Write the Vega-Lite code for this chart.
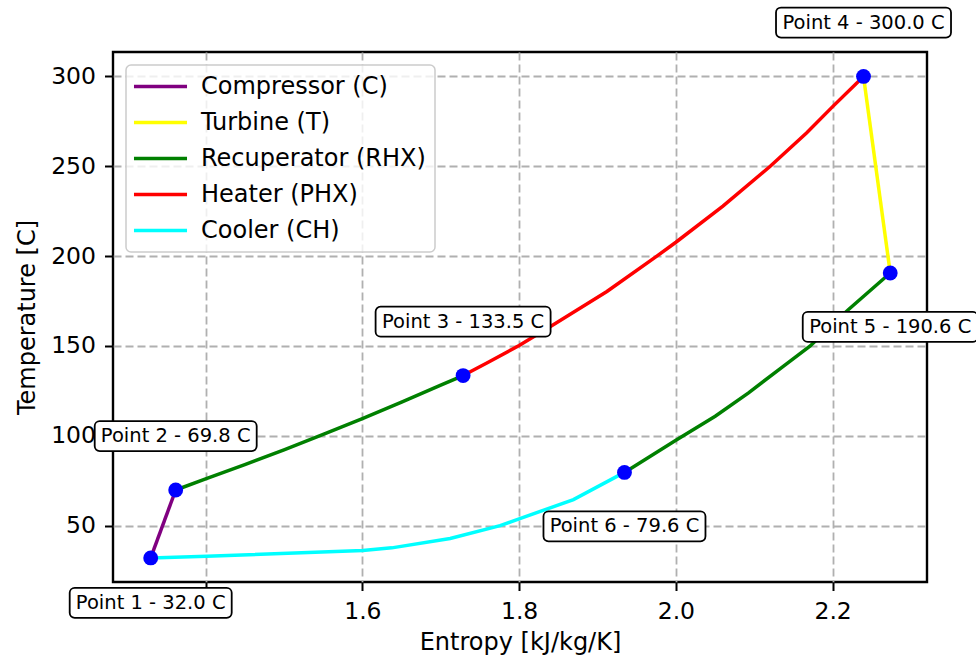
{
  "$schema": "https://vega.github.io/schema/vega-lite/v6.json",
  "width": 814,
  "height": 530,
  "autosize": {"type": "none"},
  "padding": {"left": 113, "top": 52, "right": 49, "bottom": 78},
  "background": "white",
  "config": {
    "font": "DejaVu Sans",
    "view": {"stroke": "black", "strokeWidth": 2.4},
    "axis": {
      "domain": false,
      "grid": true,
      "gridColor": "#b0b0b0",
      "gridDash": [8, 4],
      "gridWidth": 1.8,
      "tickColor": "black",
      "tickWidth": 2,
      "tickSize": 8.5,
      "labelFont": "DejaVu Sans",
      "labelFontSize": 23.5,
      "labelColor": "black",
      "titleFont": "DejaVu Sans",
      "titleFontSize": 24,
      "titleFontWeight": "normal",
      "titleColor": "black"
    },
    "axisX": {"labelPadding": 9, "titlePadding": 7},
    "axisY": {"labelPadding": 9, "titlePadding": 11},
    "legend": {
      "orient": "none",
      "legendX": 13,
      "legendY": 13,
      "padding": 9,
      "fillColor": "rgba(255,255,255,0.8)",
      "strokeColor": "#cccccc",
      "strokeWidth": 1.5,
      "cornerRadius": 5,
      "labelFont": "DejaVu Sans",
      "labelFontSize": 24,
      "labelColor": "black",
      "labelLimit": 0,
      "symbolType": "M-2.5,0H2.5",
      "symbolSize": 450,
      "symbolStrokeWidth": 3.5,
      "symbolOffset": 13,
      "labelOffset": 28,
      "rowPadding": 11
    }
  },
  "datasets": {
    "lines": [
      {"comp": "Compressor (C)", "seg": "C", "o": 0, "s": 1.3299, "T": 32.0},
      {"comp": "Compressor (C)", "seg": "C", "o": 1, "s": 1.3618, "T": 69.8},
      {"comp": "Recuperator (RHX)", "seg": "R1", "o": 0, "s": 1.3618, "T": 69.8},
      {"comp": "Recuperator (RHX)", "seg": "R1", "o": 1, "s": 1.40, "T": 76.0},
      {"comp": "Recuperator (RHX)", "seg": "R1", "o": 2, "s": 1.45, "T": 83.9},
      {"comp": "Recuperator (RHX)", "seg": "R1", "o": 3, "s": 1.50, "T": 92.2},
      {"comp": "Recuperator (RHX)", "seg": "R1", "o": 4, "s": 1.55, "T": 100.8},
      {"comp": "Recuperator (RHX)", "seg": "R1", "o": 5, "s": 1.60, "T": 109.5},
      {"comp": "Recuperator (RHX)", "seg": "R1", "o": 6, "s": 1.65, "T": 118.7},
      {"comp": "Recuperator (RHX)", "seg": "R1", "o": 7, "s": 1.70, "T": 128.2},
      {"comp": "Recuperator (RHX)", "seg": "R1", "o": 8, "s": 1.7285, "T": 133.5},
      {"comp": "Heater (PHX)", "seg": "H", "o": 0, "s": 1.7285, "T": 133.5},
      {"comp": "Heater (PHX)", "seg": "H", "o": 1, "s": 1.76, "T": 140.8},
      {"comp": "Heater (PHX)", "seg": "H", "o": 2, "s": 1.80, "T": 150.2},
      {"comp": "Heater (PHX)", "seg": "H", "o": 3, "s": 1.84, "T": 160.8},
      {"comp": "Heater (PHX)", "seg": "H", "o": 4, "s": 1.912, "T": 180.3},
      {"comp": "Heater (PHX)", "seg": "H", "o": 5, "s": 1.9757, "T": 200.0},
      {"comp": "Heater (PHX)", "seg": "H", "o": 6, "s": 2.0, "T": 207.7},
      {"comp": "Heater (PHX)", "seg": "H", "o": 7, "s": 2.06, "T": 227.8},
      {"comp": "Heater (PHX)", "seg": "H", "o": 8, "s": 2.1204, "T": 250.0},
      {"comp": "Heater (PHX)", "seg": "H", "o": 9, "s": 2.167, "T": 268.6},
      {"comp": "Heater (PHX)", "seg": "H", "o": 10, "s": 2.2, "T": 283.2},
      {"comp": "Heater (PHX)", "seg": "H", "o": 11, "s": 2.2394, "T": 300.0},
      {"comp": "Turbine (T)", "seg": "T", "o": 0, "s": 2.2394, "T": 300.0},
      {"comp": "Turbine (T)", "seg": "T", "o": 1, "s": 2.2735, "T": 190.6},
      {"comp": "Recuperator (RHX)", "seg": "R2", "o": 0, "s": 2.2735, "T": 190.6},
      {"comp": "Recuperator (RHX)", "seg": "R2", "o": 1, "s": 2.2203, "T": 170.3},
      {"comp": "Recuperator (RHX)", "seg": "R2", "o": 2, "s": 2.2, "T": 162.0},
      {"comp": "Recuperator (RHX)", "seg": "R2", "o": 3, "s": 2.1714, "T": 150.0},
      {"comp": "Recuperator (RHX)", "seg": "R2", "o": 4, "s": 2.1353, "T": 138.1},
      {"comp": "Recuperator (RHX)", "seg": "R2", "o": 5, "s": 2.0927, "T": 123.9},
      {"comp": "Recuperator (RHX)", "seg": "R2", "o": 6, "s": 2.0502, "T": 110.9},
      {"comp": "Recuperator (RHX)", "seg": "R2", "o": 7, "s": 2.0, "T": 97.5},
      {"comp": "Recuperator (RHX)", "seg": "R2", "o": 8, "s": 1.9344, "T": 79.6},
      {"comp": "Cooler (CH)", "seg": "CH", "o": 0, "s": 1.9344, "T": 79.6},
      {"comp": "Cooler (CH)", "seg": "CH", "o": 1, "s": 1.8693, "T": 64.5},
      {"comp": "Cooler (CH)", "seg": "CH", "o": 2, "s": 1.80, "T": 53.7},
      {"comp": "Cooler (CH)", "seg": "CH", "o": 3, "s": 1.7757, "T": 50.0},
      {"comp": "Cooler (CH)", "seg": "CH", "o": 4, "s": 1.712, "T": 42.8},
      {"comp": "Cooler (CH)", "seg": "CH", "o": 5, "s": 1.6375, "T": 37.6},
      {"comp": "Cooler (CH)", "seg": "CH", "o": 6, "s": 1.6005, "T": 36.1},
      {"comp": "Cooler (CH)", "seg": "CH", "o": 7, "s": 1.4014, "T": 32.9},
      {"comp": "Cooler (CH)", "seg": "CH", "o": 8, "s": 1.3299, "T": 32.0}
    ],
    "pts": [
      {"s": 1.3299, "T": 32.0, "label": "Point 1 - 32.0 C", "lt": 7.0},
      {"s": 1.3618, "T": 69.8, "label": "Point 2 - 69.8 C", "lt": 99.8},
      {"s": 1.7285, "T": 133.5, "label": "Point 3 - 133.5 C", "lt": 163.5},
      {"s": 2.2394, "T": 300.0, "label": "Point 4 - 300.0 C", "lt": 330.0},
      {"s": 2.2735, "T": 190.6, "label": "Point 5 - 190.6 C", "lt": 160.6},
      {"s": 1.9344, "T": 79.6, "label": "Point 6 - 79.6 C", "lt": 49.6}
    ]
  },
  "layer": [
    {
      "data": {"name": "lines"},
      "mark": {"type": "line", "strokeWidth": 3.5},
      "encoding": {
        "x": {
          "field": "s",
          "type": "quantitative",
          "scale": {"domain": [1.2818, 2.3204], "nice": false, "zero": false},
          "axis": {"values": [1.4, 1.6, 1.8, 2.0, 2.2], "format": ".1f", "labelExpr": "datum.value < 1.5 ? '' : datum.label", "title": "Entropy [kJ/kg/K]"}
        },
        "y": {
          "field": "T",
          "type": "quantitative",
          "scale": {"domain": [18.6, 313.6], "nice": false, "zero": false},
          "axis": {"values": [50, 100, 150, 200, 250, 300], "format": "d", "title": "Temperature [C]"}
        },
        "color": {
          "field": "comp",
          "type": "nominal",
          "scale": {
            "domain": ["Compressor (C)", "Turbine (T)", "Recuperator (RHX)", "Heater (PHX)", "Cooler (CH)"],
            "range": ["#800080", "#ffff00", "#008000", "#ff0000", "#00ffff"]
          },
          "legend": {"title": null}
        },
        "detail": {"field": "seg", "type": "nominal"},
        "order": {"field": "o", "type": "quantitative"}
      }
    },
    {
      "data": {"name": "pts"},
      "mark": {"type": "point", "filled": true, "color": "#0000ff", "size": 220, "opacity": 1},
      "encoding": {
        "x": {"field": "s", "type": "quantitative"},
        "y": {"field": "T", "type": "quantitative"}
      }
    },
    {
      "data": {"name": "pts"},
      "transform": [{"filter": "length(datum.label) < 17"}],
      "mark": {"type": "rect", "width": 162, "height": 30, "fill": "white", "stroke": "black", "strokeWidth": 1.8, "cornerRadius": 5},
      "encoding": {
        "x": {"field": "s", "type": "quantitative"},
        "y": {"field": "lt", "type": "quantitative"}
      }
    },
    {
      "data": {"name": "pts"},
      "transform": [{"filter": "length(datum.label) >= 17"}],
      "mark": {"type": "rect", "width": 175, "height": 30, "fill": "white", "stroke": "black", "strokeWidth": 1.8, "cornerRadius": 5},
      "encoding": {
        "x": {"field": "s", "type": "quantitative"},
        "y": {"field": "lt", "type": "quantitative"}
      }
    },
    {
      "data": {"name": "pts"},
      "mark": {"type": "text", "font": "DejaVu Sans", "fontSize": 19.5, "color": "black", "align": "center", "baseline": "middle"},
      "encoding": {
        "x": {"field": "s", "type": "quantitative"},
        "y": {"field": "lt", "type": "quantitative"},
        "text": {"field": "label", "type": "nominal"}
      }
    }
  ]
}
